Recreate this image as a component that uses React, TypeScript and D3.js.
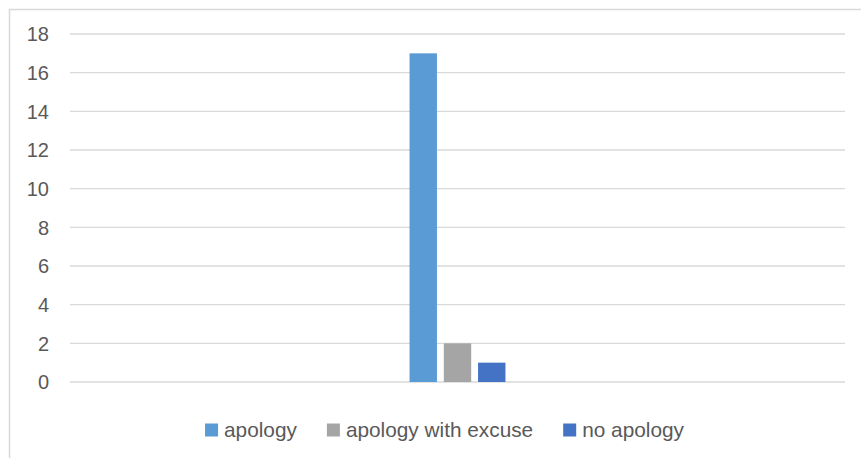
import React, { useLayoutEffect, useRef, useState } from "react";
import * as d3 from "d3";

const categories = [""];
const seriesNames = ["apology", "apology with excuse", "no apology"];
const seriesValues = [17, 2, 1];
const seriesColors = ["#5B9BD5", "#A5A5A5", "#4472C4"];
const yTicks = [0, 2, 4, 6, 8, 10, 12, 14, 16, 18];

const W = 861;
const H = 458;
const FONT = "'Liberation Sans', Arial, sans-serif";
const TEXT = "#595959";
const GRID = "#D9D9D9";

export default function App() {
  const plotLeft = 70;
  const plotRight = 845;
  const plotTop = 34;
  const plotBottom = 382;

  const y = d3.scaleLinear().domain([0, 18]).range([plotBottom, plotTop]);
  const x0 = d3
    .scaleBand<string>()
    .domain(categories)
    .range([plotLeft, plotRight])
    .paddingInner(0)
    .paddingOuter(3.54);
  const x1 = d3
    .scaleBand<string>()
    .domain(seriesNames)
    .range([0, x0.bandwidth()])
    .paddingInner(0.2)
    .paddingOuter(0);

  // legend layout from measured label widths
  const textRefs = useRef<(SVGTextElement | null)[]>([]);
  const [widths, setWidths] = useState<number[]>(seriesNames.map((s) => s.length * 10));
  useLayoutEffect(() => {
    const w = textRefs.current.map((t, i) => (t ? t.getComputedTextLength() : widths[i]));
    if (w.some((v, i) => Math.abs(v - widths[i]) > 0.5)) setWidths(w);
  }, []);

  const sq = 13;
  const sqGap = 6;
  const itemGap = 30;
  const itemWidths = widths.map((w) => sq + sqGap + w);
  const total = d3.sum(itemWidths) + itemGap * (itemWidths.length - 1);
  const legendCenter = 444.5;
  let cursor = legendCenter - total / 2;
  const legendX = itemWidths.map((w) => {
    const xPos = cursor;
    cursor += w + itemGap;
    return xPos;
  });
  const legendBaseline = 437;

  return (
    <svg
      width={W}
      height={H}
      style={{ position: "absolute", left: 0, top: 0, background: "#fff" }}
      fontFamily={FONT}
    >
      <rect x={0} y={0} width={W} height={H} fill="#fff" />
      {/* chart frame */}
      <rect x={9.5} y={9.5} width={W + 20} height={H + 20} fill="none" stroke={GRID} strokeWidth={1.5} />

      {/* gridlines and y labels */}
      {yTicks.map((t) => (
        <g key={t}>
          <line x1={plotLeft} x2={plotRight} y1={y(t)} y2={y(t)} stroke={GRID} strokeWidth={1.4} />
          <text x={49} y={y(t)} dy="0.36em" textAnchor="end" fontSize={20} fill={TEXT}>
            {t}
          </text>
        </g>
      ))}

      {/* bars */}
      {categories.map((c) => (
        <g key={c} transform={`translate(${x0(c)},0)`}>
          {seriesNames.map((s, i) => (
            <rect
              key={s}
              x={x1(s)}
              y={y(seriesValues[i])}
              width={x1.bandwidth()}
              height={y(0) - y(seriesValues[i])}
              fill={seriesColors[i]}
            />
          ))}
        </g>
      ))}

      {/* legend */}
      {seriesNames.map((s, i) => (
        <g key={s} transform={`translate(${legendX[i]},0)`}>
          <rect x={0} y={legendBaseline - 13.5} width={sq} height={sq} fill={seriesColors[i]} />
          <text
            ref={(el) => {
              textRefs.current[i] = el;
            }}
            x={sq + sqGap}
            y={legendBaseline}
            fontSize={20.8}
            fill={TEXT}
          >
            {s}
          </text>
        </g>
      ))}
    </svg>
  );
}
